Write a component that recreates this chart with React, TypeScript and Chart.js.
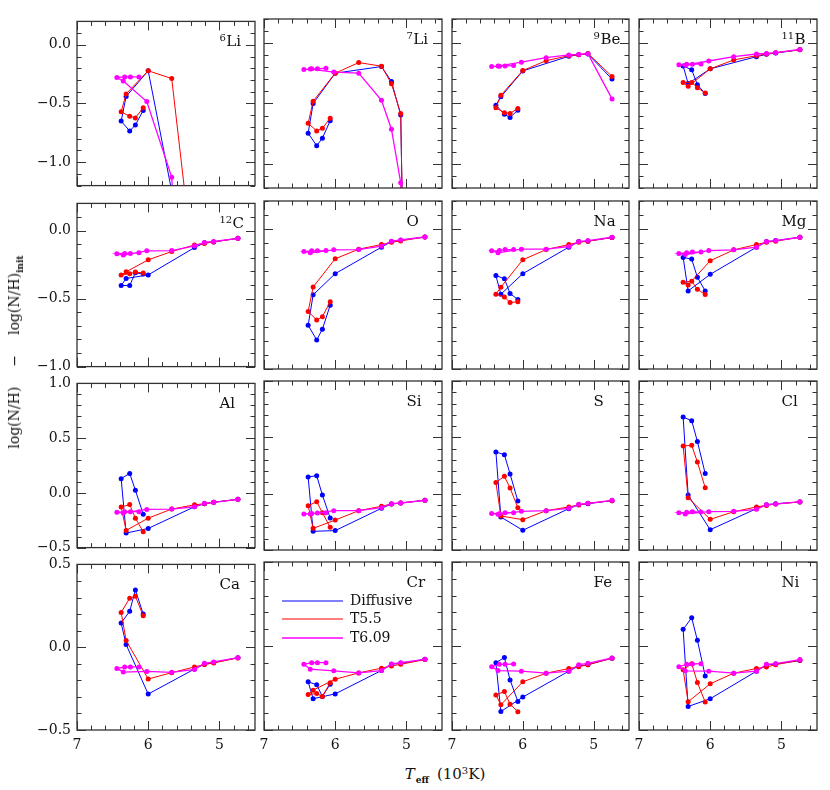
import React, { useEffect, useRef } from 'react';
import { Chart, registerables } from 'chart.js';

Chart.register(...registerables);

// ---------------- data ----------------
// Teff (10^3 K) along each model track
const TEFF_DIFF = [6.07, 6.18, 6.26, 6.38, 6.31, 6.0, 5.35, 5.21, 5.08, 4.74];
const TEFF_T55 = [6.07, 6.18, 6.26, 6.38, 6.31, 6.0, 5.67, 5.35, 5.21, 5.08, 4.74];
const TEFF_T609 = [6.13, 6.25, 6.33, 6.44, 6.35, 6.02, 5.67, 5.35, 5.21, 5.08, 4.74];

const SERIES_LABELS = ['Diffusive', 'T5.5', 'T6.09'];

const ELEMENT_SYMBOLS = ['Li', 'Li', 'Be', 'B', 'C', 'O', 'Na', 'Mg', 'Al', 'Si', 'S', 'Cl', 'Ca', 'Cr', 'Fe', 'Ni'];
const ELEMENT_MASSES = ['6', '7', '9', '11', '12', '', '', '', '', '', '', '', '', '', '', ''];

const LI6_DIFF = [-0.56, -0.683, -0.735, -0.65, -0.44, -0.221, -2.24, -2.6, -3.0, -4.0];
const LI6_T55 = [-0.536, -0.623, -0.609, -0.571, -0.418, -0.221, -0.287, -1.97, -2.4, -2.8, -3.5];
const LI6_T609 = [-0.273, -0.273, -0.273, -0.279, -0.309, -0.484, -1.128, -4.0, -4.5, -5.0, -6.0];

const LI7_DIFF = [-0.642, -0.787, -0.85, -0.746, -0.5, -0.249, -0.194, -0.317, -0.596, -12];
const LI7_T55 = [-0.623, -0.705, -0.727, -0.664, -0.481, -0.249, -0.161, -0.191, -0.336, -0.582, -12];
const LI7_T609 = [-0.208, -0.213, -0.213, -0.219, -0.215, -0.24, -0.249, -0.473, -0.713, -1.156, -12];

const BE9_DIFF = [-0.555, -0.615, -0.59, -0.514, -0.445, -0.23, -0.109, -0.096, -0.09, -0.298];
const BE9_T55 = [-0.541, -0.582, -0.577, -0.536, -0.432, -0.227, -0.145, -0.104, -0.096, -0.085, -0.276];
const BE9_T609 = [-0.186, -0.189, -0.191, -0.194, -0.19, -0.158, -0.12, -0.098, -0.093, -0.087, -0.462];

const B11_DIFF = [-0.418, -0.344, -0.221, -0.189, -0.335, -0.213, -0.112, -0.093, -0.082, -0.055];
const B11_T55 = [-0.413, -0.369, -0.325, -0.325, -0.358, -0.213, -0.139, -0.104, -0.09, -0.079, -0.055];
const B11_T609 = [-0.172, -0.175, -0.175, -0.18, -0.183, -0.148, -0.112, -0.09, -0.085, -0.079, -0.052];

const C12_DIFF = [-0.319, -0.31, -0.404, -0.404, -0.352, -0.326, -0.125, -0.09, -0.083, -0.057];
const C12_T55 = [-0.312, -0.305, -0.317, -0.326, -0.303, -0.215, -0.154, -0.106, -0.095, -0.083, -0.057];
const C12_T609 = [-0.163, -0.168, -0.168, -0.17, -0.18, -0.149, -0.147, -0.113, -0.087, -0.08, -0.057];

const O_DIFF = [-0.544, -0.716, -0.792, -0.688, -0.47, -0.319, -0.13, -0.09, -0.08, -0.057];
const O_T55 = [-0.52, -0.626, -0.65, -0.589, -0.414, -0.213, -0.144, -0.111, -0.095, -0.085, -0.057];
const O_T609 = [-0.154, -0.156, -0.156, -0.161, -0.17, -0.149, -0.147, -0.123, -0.087, -0.078, -0.057];

const NA_DIFF = [-0.504, -0.461, -0.355, -0.333, -0.466, -0.319, -0.13, -0.09, -0.087, -0.061];
const NA_T55 = [-0.52, -0.525, -0.485, -0.466, -0.416, -0.22, -0.147, -0.111, -0.095, -0.087, -0.061];
const NA_T609 = [-0.147, -0.147, -0.154, -0.156, -0.17, -0.144, -0.144, -0.125, -0.09, -0.083, -0.059];

const MG_DIFF = [-0.442, -0.345, -0.215, -0.203, -0.442, -0.324, -0.13, -0.09, -0.083, -0.059];
const MG_T55 = [-0.468, -0.43, -0.373, -0.38, -0.4, -0.227, -0.149, -0.111, -0.095, -0.087, -0.059];
const MG_T609 = [-0.165, -0.165, -0.17, -0.175, -0.182, -0.154, -0.149, -0.13, -0.09, -0.083, -0.059];

const AL_DIFF = [-0.195, 0.024, 0.178, 0.13, -0.367, -0.325, -0.127, -0.1, -0.086, -0.059];
const AL_T55 = [-0.355, -0.231, -0.107, -0.13, -0.343, -0.231, -0.148, -0.109, -0.1, -0.086, -0.059];
const AL_T609 = [-0.172, -0.172, -0.172, -0.178, -0.183, -0.151, -0.148, -0.127, -0.095, -0.086, -0.059];

const SI_DIFF = [-0.216, -0.012, 0.16, 0.148, -0.334, -0.328, -0.13, -0.092, -0.083, -0.059];
const SI_T55 = [-0.299, -0.169, -0.071, -0.107, -0.308, -0.234, -0.151, -0.112, -0.092, -0.083, -0.059];
const SI_T609 = [-0.169, -0.172, -0.175, -0.18, -0.18, -0.151, -0.151, -0.124, -0.089, -0.083, -0.059];

const S_DIFF = [-0.065, 0.175, 0.346, 0.37, -0.207, -0.325, -0.133, -0.098, -0.089, -0.062];
const S_T55 = [-0.124, 0.05, 0.154, 0.1, -0.198, -0.231, -0.151, -0.118, -0.1, -0.086, -0.062];
const S_T609 = [-0.169, -0.169, -0.178, -0.175, -0.183, -0.157, -0.151, -0.13, -0.095, -0.086, -0.059];

const CL_DIFF = [0.178, 0.464, 0.648, 0.68, -0.012, -0.32, -0.133, -0.098, -0.089, -0.074];
const CL_T55 = [0.053, 0.281, 0.429, 0.423, -0.036, -0.228, -0.16, -0.118, -0.104, -0.092, -0.074];
const CL_T609 = [-0.163, -0.16, -0.166, -0.169, -0.18, -0.16, -0.157, -0.139, -0.098, -0.092, -0.071];

const CA_DIFF = [0.2, 0.346, 0.217, 0.146, 0.016, -0.283, -0.132, -0.103, -0.093, -0.063];
const CA_T55 = [0.19, 0.308, 0.296, 0.21, 0.04, -0.192, -0.154, -0.119, -0.105, -0.095, -0.065];
const CA_T609 = [-0.119, -0.119, -0.12, -0.128, -0.15, -0.146, -0.152, -0.134, -0.097, -0.089, -0.063];

const CR_DIFF = [-0.227, -0.3, -0.231, -0.213, -0.314, -0.285, -0.146, -0.109, -0.103, -0.079];
const CR_T55 = [-0.219, -0.3, -0.283, -0.289, -0.263, -0.198, -0.16, -0.132, -0.119, -0.109, -0.081];
const CR_T609 = [-0.099, -0.099, -0.099, -0.109, -0.138, -0.148, -0.16, -0.146, -0.107, -0.099, -0.079];

const FE_DIFF = [-0.33, -0.202, -0.069, -0.099, -0.39, -0.304, -0.15, -0.119, -0.111, -0.073];
const FE_T55 = [-0.391, -0.346, -0.271, -0.291, -0.35, -0.213, -0.162, -0.134, -0.123, -0.111, -0.073];
const FE_T609 = [-0.107, -0.109, -0.109, -0.123, -0.146, -0.15, -0.162, -0.15, -0.111, -0.103, -0.071];

const NI_DIFF = [-0.178, 0.034, 0.168, 0.099, -0.36, -0.314, -0.15, -0.113, -0.107, -0.087];
const NI_T55 = [-0.334, -0.217, -0.105, -0.142, -0.332, -0.225, -0.162, -0.134, -0.125, -0.111, -0.085];
const NI_T609 = [-0.105, -0.107, -0.109, -0.123, -0.148, -0.15, -0.162, -0.15, -0.109, -0.105, -0.081];

// axes
const X_MIN = 4.5;
const X_MAX = 7.0;
const X_TICK_LABELS = [7, 6, 5];
const ROW_Y_MIN = [-1.2, -1.0, -0.5, -0.5];
const ROW_Y_MAX = [0.2, 0.2, 1.0, 0.5];
const ROW_Y_TICK_LABELS = [
  [0.0, -0.5, -1.0],
  [0.0, -0.5, -1.0],
  [1.0, 0.5, 0.0, -0.5],
  [0.5, 0.0, -0.5],
];

// ---------------- styling / layout ----------------
const COLORS = ['#0000ff', '#ff0000', '#ff00ff'];
const LINE_WIDTHS = [1, 1, 1.3];
const FONT = '"DejaVu Serif", serif';
const COL_LEFT = [77, 264, 452, 639];
const COL_WIDTH = [178, 178, 177, 178];
const ROW_TOP = [19, 201, 381, 562];
const ROW_HEIGHT = [169, 168, 169, 168];
const LEGEND_PANEL = 13;

const PANEL_DATA = [
  [LI6_DIFF, LI6_T55, LI6_T609],
  [LI7_DIFF, LI7_T55, LI7_T609],
  [BE9_DIFF, BE9_T55, BE9_T609],
  [B11_DIFF, B11_T55, B11_T609],
  [C12_DIFF, C12_T55, C12_T609],
  [O_DIFF, O_T55, O_T609],
  [NA_DIFF, NA_T55, NA_T609],
  [MG_DIFF, MG_T55, MG_T609],
  [AL_DIFF, AL_T55, AL_T609],
  [SI_DIFF, SI_T55, SI_T609],
  [S_DIFF, S_T55, S_T609],
  [CL_DIFF, CL_T55, CL_T609],
  [CA_DIFF, CA_T55, CA_T609],
  [CR_DIFF, CR_T55, CR_T609],
  [FE_DIFF, FE_T55, FE_T609],
  [NI_DIFF, NI_T55, NI_T609],
];
const SERIES_TEFF = [TEFF_DIFF, TEFF_T55, TEFF_T609];

const fmtY = (v: number) => {
  if (Math.abs(v) < 1e-9) return '0.0';
  return (v < 0 ? '\u2212' : '') + Math.abs(v).toFixed(1);
};

const framePlugin = {
  id: 'panelFrame',
  afterDatasetsDraw(chart: any, _args: any, opts: any) {
    const { ctx, chartArea: a } = chart;
    const xs = chart.scales.x;
    const ys = chart.scales.y;
    ctx.save();
    ctx.strokeStyle = '#333';
    ctx.lineWidth = 1;
    const seg = (x1: number, y1: number, x2: number, y2: number) => {
      ctx.beginPath();
      ctx.moveTo(x1, y1);
      ctx.lineTo(x2, y2);
      ctx.stroke();
    };
    for (let i = 0; ; i++) {
      const v = X_MAX - i * 0.2;
      if (v < X_MIN + 1e-6) break;
      const px = Math.round(xs.getPixelForValue(v)) + 0.5;
      const major = Math.abs(v - Math.round(v)) < 1e-6;
      const len = major ? 9 : 4.5;
      seg(px, a.bottom, px, a.bottom - len);
      seg(px, a.top, px, a.top + len);
    }
    const yMin = ys.min;
    const yMax = ys.max;
    for (let i = 0; ; i++) {
      const v = yMin + i * 0.1;
      if (v > yMax + 1e-6) break;
      const py = Math.round(ys.getPixelForValue(v)) + 0.5;
      const major = Math.abs(v * 2 - Math.round(v * 2)) < 1e-6;
      const len = major ? 9 : 4.5;
      seg(a.left, py, a.left + len, py);
      seg(a.right, py, a.right - len, py);
    }
    ctx.strokeStyle = '#333';
    ctx.lineWidth = 1.3;
    ctx.strokeRect(a.left, a.top, a.right - a.left, a.bottom - a.top);

    // element label
    ctx.fillStyle = '#111';
    ctx.textBaseline = 'middle';
    ctx.textAlign = 'left';
    let lx = xs.getPixelForValue(5.0);
    const ly = a.top + 21;
    if (opts.mass) {
      ctx.font = '10px ' + FONT;
      ctx.fillText(opts.mass, lx, ly - 4);
      lx += ctx.measureText(opts.mass).width + 0.5;
    }
    ctx.font = '15px ' + FONT;
    ctx.fillText(opts.sym, lx, ly);

    // legend
    if (opts.legend) {
      const offs = [39, 57, 76];
      for (let k = 0; k < 3; k++) {
        const y = a.top + offs[k];
        ctx.strokeStyle = COLORS[k];
        ctx.lineWidth = LINE_WIDTHS[k];
        seg(a.left + 18, y, a.left + 79, y);
        ctx.fillStyle = '#111';
        ctx.font = '14px ' + FONT;
        ctx.fillText(SERIES_LABELS[k], a.left + 86, y);
      }
    }
    ctx.restore();
  },
};

function Panel({ idx }: { idx: number }) {
  const ref = useRef<HTMLCanvasElement>(null);
  const row = Math.floor(idx / 4);
  const col = idx % 4;
  const padL = col === 0 ? 70 : 12;
  const padR = 12;
  const padT = 12;
  const padB = row === 3 ? 32 : 12;
  const w = padL + COL_WIDTH[col] + padR;
  const h = padT + ROW_HEIGHT[row] + padB;

  useEffect(() => {
    const datasets = [0, 1, 2].map((k) => ({
      label: SERIES_LABELS[k],
      data: SERIES_TEFF[k].map((t, j) => ({ x: t, y: PANEL_DATA[idx][k][j] })),
      showLine: true,
      borderColor: COLORS[k],
      backgroundColor: COLORS[k],
      pointBackgroundColor: COLORS[k],
      borderWidth: LINE_WIDTHS[k],
      pointRadius: 2.5,
      pointBorderWidth: 0,
      order: 3 - k,
    }));
    const tickFont = { family: FONT, size: 14 };
    const chart = new Chart(ref.current as HTMLCanvasElement, {
      type: 'scatter',
      data: { datasets },
      options: {
        responsive: false,
        animation: false,
        events: [],
        layout: { padding: { top: padT, right: padR, left: 0, bottom: 0 } },
        plugins: {
          legend: { display: false },
          tooltip: { enabled: false },
          panelFrame: { sym: ELEMENT_SYMBOLS[idx], mass: ELEMENT_MASSES[idx], legend: idx === LEGEND_PANEL },
        } as any,
        scales: {
          x: {
            type: 'linear',
            min: X_MIN,
            max: X_MAX,
            reverse: true,
            grid: { display: false, drawTicks: false },
            border: { display: false },
            ticks: {
              display: row === 3,
              font: tickFont,
              color: '#111',
              padding: 7,
              maxRotation: 0,
              callback: (v: any) => String(v),
            },
            afterBuildTicks: (s: any) => {
              s.ticks = X_TICK_LABELS.map((v) => ({ value: v }));
            },
            afterFit: (s: any) => {
              s.height = padB;
            },
          },
          y: {
            type: 'linear',
            min: ROW_Y_MIN[row],
            max: ROW_Y_MAX[row],
            grid: { display: false, drawTicks: false },
            border: { display: false },
            ticks: {
              display: col === 0,
              font: tickFont,
              color: '#111',
              padding: 6,
              callback: (v: any) => fmtY(Number(v)),
            },
            afterBuildTicks: (s: any) => {
              s.ticks = ROW_Y_TICK_LABELS[row].map((v) => ({ value: v }));
            },
            afterFit: (s: any) => {
              s.width = padL;
            },
          },
        },
      } as any,
      plugins: [framePlugin],
    });
    return () => chart.destroy();
  }, [idx]);

  return (
    <canvas
      ref={ref}
      width={w}
      height={h}
      style={{
        position: 'absolute',
        left: COL_LEFT[col] - padL,
        top: ROW_TOP[row] - padT,
        width: w,
        height: h,
      }}
    />
  );
}

export default function App() {
  return (
    <div
      style={{
        position: 'absolute',
        left: 0,
        top: 0,
        width: 830,
        height: 790,
        background: '#fff',
        overflow: 'hidden',
        fontFamily: FONT,
        color: '#111',
      }}
    >
      {PANEL_DATA.map((_, i) => (
        <Panel key={i} idx={i} />
      ))}
      <div
        style={{
          position: 'absolute',
          left: 15,
          top: 352,
          transform: 'translate(-50%, -50%) rotate(-90deg)',
          whiteSpace: 'nowrap',
          fontSize: 14,
          lineHeight: '16px',
        }}
      >
        log(N/H)<span style={{ margin: '0 20px' }}>{'\u2212'}</span>log(N/H)
        <span style={{ fontSize: 9, fontWeight: 'bold', position: 'relative', top: 4 }}>init</span>
      </div>
      <div
        style={{
          position: 'absolute',
          left: 445,
          top: 775,
          transform: 'translate(-50%, -50%)',
          whiteSpace: 'nowrap',
          fontSize: 15,
          lineHeight: '18px',
        }}
      >
        <i>T</i>
        <span style={{ fontSize: 9, fontWeight: 'bold', position: 'relative', top: 4, marginLeft: 1 }}>eff</span>
        <span style={{ marginLeft: 8 }}>
          (10<span style={{ fontSize: 10, position: 'relative', top: -5 }}>3</span>K)
        </span>
      </div>
    </div>
  );
}
